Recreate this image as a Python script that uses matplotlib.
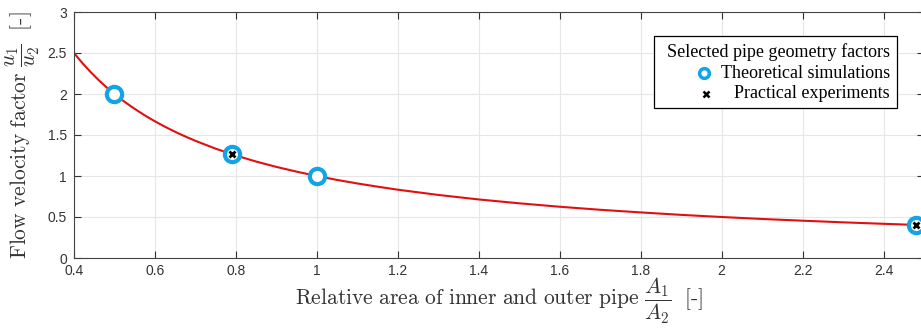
import numpy as np
import matplotlib.pyplot as plt
from matplotlib.lines import Line2D
from matplotlib.patches import Rectangle

plt.rcParams['mathtext.fontset'] = 'cm'

# area ratio A1/A2 and flow velocity factor u1/u2 along the curve
area_ratio = [0.40, 0.42, 0.44, 0.46, 0.48, 0.50, 0.52, 0.54, 0.56, 0.58, 0.60,
              0.62, 0.64, 0.66, 0.68, 0.70, 0.75, 0.80, 0.85, 0.90, 0.95, 1.00,
              1.05, 1.10, 1.15, 1.20, 1.30, 1.40, 1.50, 1.60, 1.70, 1.80, 1.90,
              2.00, 2.10, 2.20, 2.30, 2.40, 2.50]
velocity_factor = [2.500, 2.381, 2.273, 2.174, 2.083, 2.000, 1.923, 1.852, 1.786, 1.724,
                   1.667, 1.613, 1.563, 1.515, 1.471, 1.429, 1.333, 1.250, 1.176, 1.111,
                   1.053, 1.000, 0.952, 0.909, 0.870, 0.833, 0.769, 0.714, 0.667, 0.625,
                   0.588, 0.556, 0.526, 0.500, 0.476, 0.455, 0.435, 0.417, 0.400]

# selected geometries
sim_x = [0.50, 0.79, 1.00, 2.48]
sim_y = [2.00, 1.27, 1.00, 0.40]
exp_x = [0.79, 2.48]
exp_y = [1.27, 0.40]

BLUE = '#12a4e4'
W, H = 921, 328

fig = plt.figure(figsize=(W / 100, H / 100), dpi=100)
ax = fig.add_axes([74 / W, 70 / H, 850 / W, 246 / H])

ax.plot(area_ratio, velocity_factor, color='#e01010', lw=1.5, zorder=2)
ax.plot(sim_x, sim_y, 'o', ms=11, mfc='white', mec=BLUE, mew=3, zorder=3)
ax.plot(exp_x, exp_y, 'x', ms=5, color='black', mew=2, zorder=4)

ax.set_xlim(0.4, 2.5)
ax.set_ylim(0, 3)
ax.set_xticks(np.arange(0.4, 2.41, 0.2))
ax.set_xticklabels(['0.4', '0.6', '0.8', '1', '1.2', '1.4', '1.6', '1.8', '2', '2.2', '2.4'])
ax.set_yticks([0, 0.5, 1, 1.5, 2, 2.5, 3])
ax.set_yticklabels(['0', '0.5', '1', '1.5', '2', '2.5', '3'])
ax.tick_params(labelsize=10, colors='#333333', direction='in', length=5, width=0.8,
               top=True, right=True, pad=4)
ax.tick_params(axis='y', pad=5)
for lbl in ax.get_xticklabels() + ax.get_yticklabels():
    lbl.set_family('Liberation Sans')
ax.grid(True, color='#e6e6e6', lw=0.8)
ax.set_axisbelow(True)
for s in ax.spines.values():
    s.set_color('#444444')
    s.set_linewidth(0.8)

ax.set_xlabel(r'$\mathrm{Relative\ area\ of\ inner\ and\ outer\ pipe}\ \dfrac{A_1}{A_2}\ \ \text{[-]}$',
              fontsize=15.5, color='#333333', labelpad=-1)
ax.set_ylabel(r'$\mathrm{Flow\ velocity\ factor}\ \dfrac{u_1}{u_2}\ \ \text{[-]}$',
              fontsize=15.5, color='#333333', labelpad=4)


# legend box with right-aligned entries, placed in pixel units from the top-left
def px(x, y):
    return x / W, 1 - y / H


x0, y0 = px(654, 108)
x1, y1 = px(897, 36)
fig.add_artist(Rectangle((x0, y0), x1 - x0, y1 - y0, transform=fig.transFigure,
                         facecolor='white', edgecolor='black', lw=0.9, zorder=5))
legend_font = dict(family='Liberation Serif', size=13, ha='right', va='center',
                   color='black', zorder=6)
fig.text(*px(890, 52), 'Selected pipe geometry factors', **legend_font)
fig.text(*px(890, 73), 'Theoretical simulations', **legend_font)
fig.text(*px(890, 94), 'Practical experiments', **legend_font)
mx, my = px(704, 73)
fig.add_artist(Line2D([mx], [my], transform=fig.transFigure, marker='o', ms=7,
                      mfc='white', mec=BLUE, mew=2.5, zorder=6))
mx, my = px(706, 94)
fig.add_artist(Line2D([mx], [my], transform=fig.transFigure, marker='x', ms=5,
                      color='black', mew=1.8, zorder=6))

fig.savefig('out.png', dpi=100)
